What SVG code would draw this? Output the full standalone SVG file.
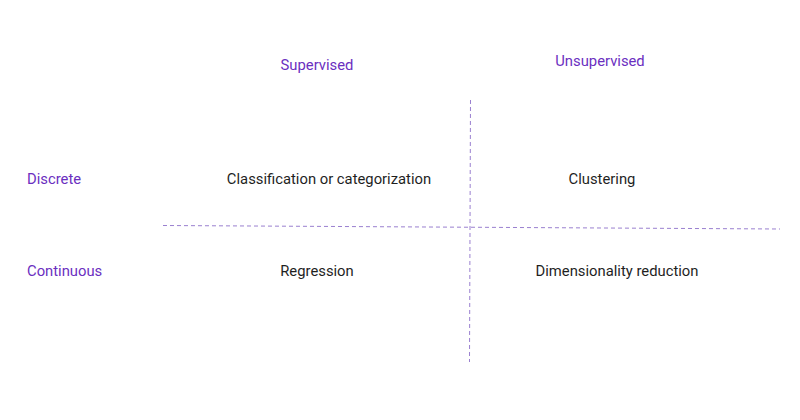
<svg xmlns="http://www.w3.org/2000/svg" width="800" height="420" viewBox="0 0 800 420">
<style>
text{font-family:Roboto,"Liberation Sans",sans-serif;font-size:14.8px}
.h{fill:#6b2fbf}
.c{fill:#1f1f1f;text-anchor:middle}
.m{text-anchor:middle}
.d{stroke:#9a80d0;stroke-width:1;stroke-dasharray:4 3;fill:none}
</style>
<rect width="800" height="420" fill="#fff"/>
<g id="connectors">
<line class="d" x1="163" y1="225.5" x2="780" y2="229"/>
<line class="d" x1="470.5" y1="100" x2="469.5" y2="362"/>
</g>
<g id="supervised"><text class="h m" x="317" y="70">Supervised</text></g>
<g id="unsupervised"><text class="h m" x="600" y="66">Unsupervised</text></g>
<g id="discrete"><text class="h" x="27" y="184">Discrete</text></g>
<g id="continuous"><text class="h" x="27" y="276">Continuous</text></g>
<g id="classification"><text class="c" x="329" y="184">Classification or categorization</text></g>
<g id="clustering"><text class="c" x="602" y="184">Clustering</text></g>
<g id="regression"><text class="c" x="317" y="276">Regression</text></g>
<g id="dimred"><text class="c" x="617" y="276">Dimensionality reduction</text></g>
</svg>
